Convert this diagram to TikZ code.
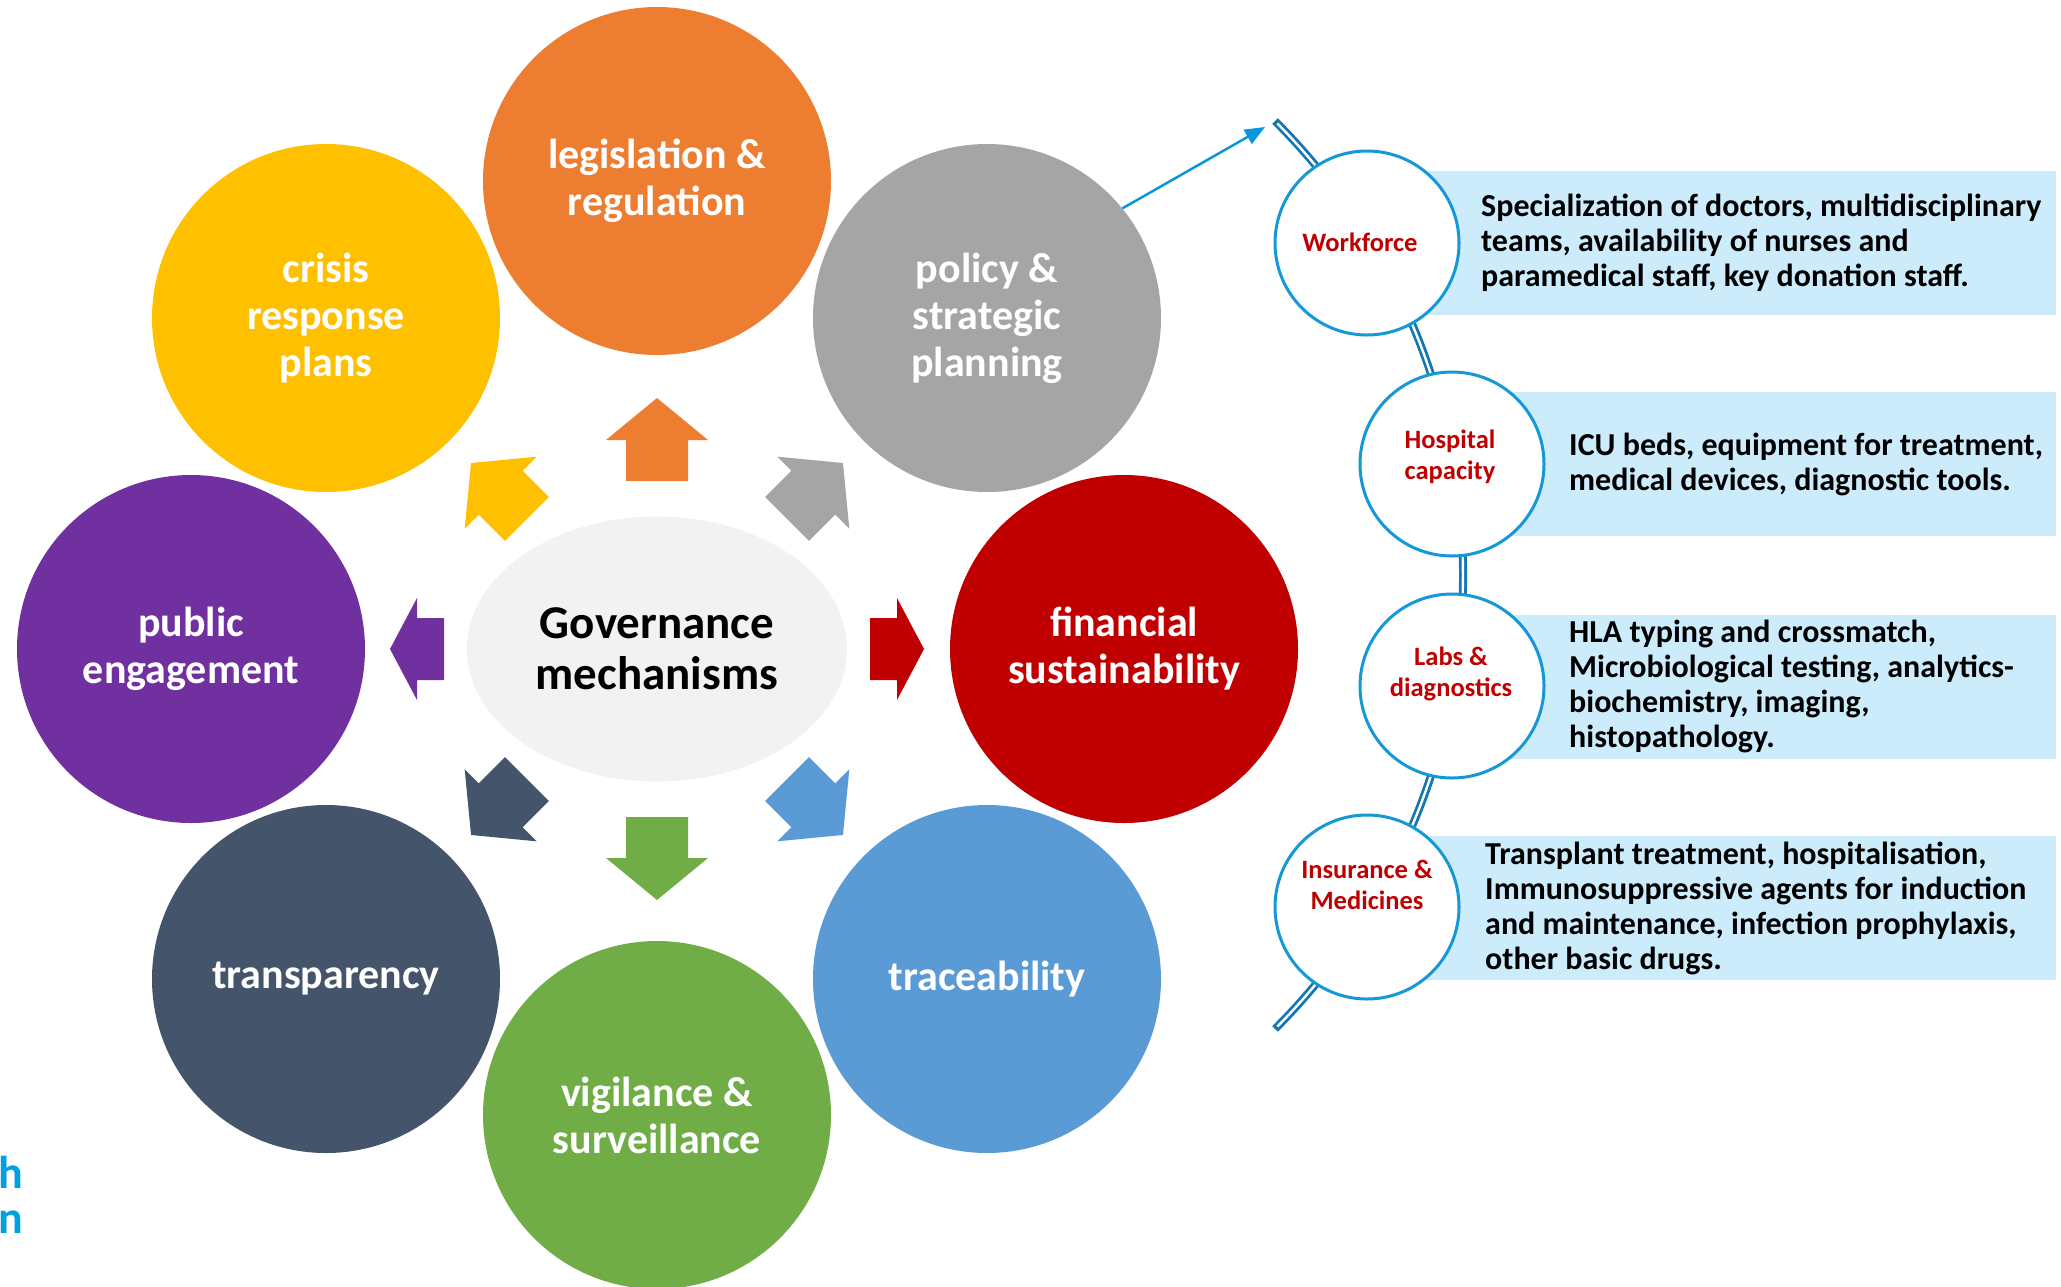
\documentclass[tikz,border=0pt]{standalone}
\usepackage{fontspec}
\setmainfont{Carlito}
\usetikzlibrary{shapes.geometric,arrows.meta,calc}
\definecolor{cOrange}{HTML}{ED7D31}
\definecolor{cYellow}{HTML}{FFC000}
\definecolor{cGray}{HTML}{A5A5A5}
\definecolor{cPurple}{HTML}{7030A0}
\definecolor{cRed}{HTML}{C00000}
\definecolor{cSlate}{HTML}{44546A}
\definecolor{cBlue}{HTML}{5B9BD5}
\definecolor{cGreen}{HTML}{70AD47}
\definecolor{cCenter}{HTML}{F2F2F2}
\definecolor{cBox}{RGB}{204,236,252}
\definecolor{cRing}{RGB}{20,152,216}
\definecolor{cLine}{RGB}{20,118,178}
\definecolor{cArrow}{RGB}{10,150,220}
\definecolor{cLabel}{HTML}{C00000}
\definecolor{cLogo}{RGB}{0,160,227}
\newcommand{\radarrow}[5]{%
  \fill[#5, shift={(657,649)}, rotate=#1]
    (#2,-31) -- (#3,-31) -- (#3,-51) -- (#4,0) -- (#3,51) -- (#3,31) -- (#2,31) -- cycle;
}
\begin{document}
\begin{tikzpicture}[x=1pt,y=-1pt,
  bigc/.style={circle, minimum size=348pt, inner sep=0pt, text=white,
    font=\fontsize{42}{47}\selectfont\bfseries, align=center},
  ringc/.style={circle, draw=cRing, line width=3pt, fill=white, minimum size=184pt, inner sep=0pt},
  ringlabel/.style={text=cLabel, font=\fontsize{26.5}{31}\selectfont\bfseries, align=center, inner sep=0pt},
  infobox/.style={fill=cBox, minimum height=144pt, inner sep=0pt, anchor=west},
  infotext/.style={font=\fontsize{32}{35}\selectfont\bfseries, align=left, anchor=west, inner sep=0pt},
  logotext/.style={text=cLogo, font=\fontsize{46}{50}\selectfont\bfseries, inner sep=0pt, anchor=base west}
]
\useasboundingbox (0,0) rectangle (2061,1286);
\clip (0,0) rectangle (2061,1286);

% ring of circles
\node[bigc, fill=cOrange] (leg) at (657,181) {legislation \&\\regulation};
\node[bigc, fill=cYellow] (crisis) at (326,318) {crisis\\response\\plans};
\node[bigc, fill=cGray] (policy) at (987,318) {policy \&\\strategic\\planning};
\node[bigc, fill=cPurple] (public) at (191,649) {public\\engagement};
\node[bigc, fill=cRed] (fin) at (1124,649) {financial\\sustainability};
\node[bigc, fill=cSlate] (transp) at (326,979) {transparency};
\node[bigc, fill=cBlue] (trace) at (987,979) {traceability};
\node[bigc, fill=cGreen] (vig) at (657,1115) {vigilance \&\\surveillance};

% centre
\node[ellipse, fill=cCenter, minimum width=380pt, minimum height=265pt, inner sep=0pt,
  font=\fontsize{47}{51}\selectfont\bfseries, align=center] (gov) at (657,649) {Governance\\mechanisms};

% radial arrows
\radarrow{90}{168}{209}{251}{cOrange}
\radarrow{270}{168}{209}{251}{cGreen}
\radarrow{0}{213}{240}{267}{cRed}
\radarrow{180}{213}{240}{267}{cPurple}
\radarrow{45}{184}{221}{263}{cGray}
\radarrow{135}{184}{221}{263}{cYellow}
\radarrow{225}{184}{221}{263}{cSlate}
\radarrow{315}{184}{221}{263}{cBlue}

% right panel boxes
\node[infobox, minimum width=689pt] (wfbox) at (1367,243) {};
\node[infobox, minimum width=604pt] (hcbox) at (1452,464) {};
\node[infobox, minimum width=604pt] (labbox) at (1452,687) {};
\node[infobox, minimum width=689pt] (insbox) at (1367,908) {};

% curved double line (closed band)
\coordinate (arctop) at (1275,121);
\coordinate (arccentre) at (821,575);
\draw[cLine, line width=8pt]
  (arctop) arc[start angle=-45, end angle=45, radius=642] coordinate (arcbot);
\draw[white, line width=2.4pt]
  ($(arccentre)+(-44.7:642)$) arc[start angle=-44.7, end angle=44.7, radius=642];

% ring circles
\node[ringc] (wf) at (1367,243) {};
\node[ringc] (hc) at (1452,464) {};
\node[ringc] (lab) at (1452,686) {};
\node[ringc] (ins) at (1367,907) {};
\node[ringlabel] (wfl) at (1360,242) {Workforce};
\node[ringlabel] (hcl) at (1450,457) {Hospital\\capacity};
\node[ringlabel] (labl) at (1451,674) {Labs \&\\diagnostics};
\node[ringlabel] (insl) at (1367,885) {Insurance \&\\Medicines};

% texts
\node[infotext] (wft) at (1481,243) {Specialization of doctors, multidisciplinary\\teams, availability of nurses and\\paramedical staff, key donation staff.};
\node[infotext] (hct) at (1569,464) {ICU beds, equipment for treatment,\\medical devices, diagnostic tools.};
\node[infotext] (labt) at (1569,686) {HLA typing and crossmatch,\\Microbiological testing, analytics-\\biochemistry, imaging,\\histopathology.};
\node[infotext] (inst) at (1485,908) {Transplant treatment, hospitalisation,\\Immunosuppressive agents for induction\\and maintenance, infection prophylaxis,\\other basic drugs.};

% pointer arrow
\coordinate (arrowend) at (1265,127);
\draw[cArrow, line width=2.5pt, -{Triangle[length=20pt,width=16pt]}] (policy.39) -- (arrowend);

% logo text at the left edge
\node[logotext] (logoh) at (-2,1188) {h};
\node[logotext] (logon) at (-2,1233) {n};
\end{tikzpicture}
\end{document}
